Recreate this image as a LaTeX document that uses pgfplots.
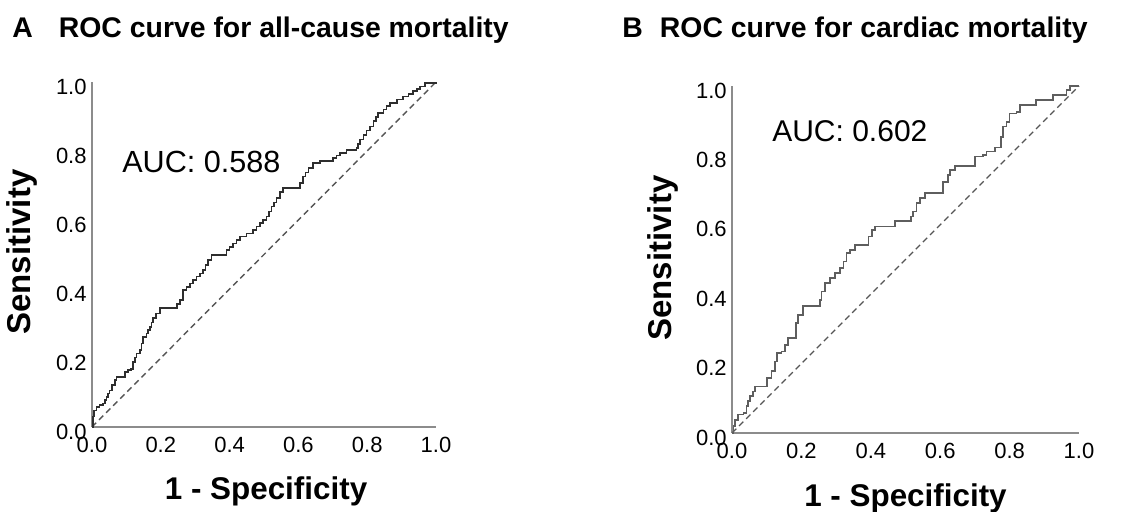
\documentclass[border=0pt]{standalone}
\usepackage{fontspec}
\setmainfont{Liberation Sans}
\usepackage{pgfplots}
\pgfplotsset{compat=1.18}

\definecolor{axisgrey}{HTML}{8C8C8C}
\definecolor{curveA}{HTML}{2E2E2E}
\definecolor{curveB}{HTML}{5E5E5E}
\definecolor{diaggrey}{HTML}{555555}

\pgfplotsset{
  rocaxis/.style={
    scale only axis, clip=false,
    xmin=0, xmax=1, ymin=0, ymax=1,
    axis x line=bottom, axis y line=left,
    axis line style={-, axisgrey, line width=0.8pt},
    major tick length=0pt,
    xtick={0,0.2,0.4,0.6,0.8,1}, ytick={0,0.2,0.4,0.6,0.8,1},
    xticklabels={0.0,0.2,0.4,0.6,0.8,1.0},
    yticklabels={0.0,0.2,0.4,0.6,0.8,1.0},
    tick label style={font=\fontsize{11}{12}\selectfont, inner sep=0pt},
    xticklabel style={anchor=base, yshift=-13pt},
    yticklabel style={anchor=east, xshift=-2.5pt, yshift=-2.3pt},
    xlabel style={font=\bfseries\fontsize{15.7}{18}\selectfont, inner sep=0pt},
    ylabel style={font=\bfseries\fontsize{16.5}{18}\selectfont, inner sep=0pt},
    every axis title shift=0pt,
    title style={font=\bfseries\fontsize{14.2}{17}\selectfont, inner sep=0pt, anchor=base west},
    xlabel={1 - Specificity}, ylabel={Sensitivity},
  },
}

\begin{document}
\begin{tikzpicture}
\path[use as bounding box] (0,0) rectangle (569pt,256pt);

% A: all-cause mortality
\begin{axis}[rocaxis,
  at={(46pt,42.5pt)}, anchor=south west,
  width=172pt, height=172.5pt,
  title={A\hspace{13pt}ROC curve for all-cause mortality},
  title style={at={(axis description cs:-0.2326,1.130)}},
  xlabel style={at={(axis description cs:0.506,-0.2116)}, anchor=base},
  ylabel style={at={(axis description cs:-0.2035,0.507)}, anchor=center},
]
\addplot[dash pattern=on 3pt off 2pt, diaggrey, line width=0.7pt] coordinates {(0,0) (1,1)};
\addplot[const plot, curveA, line width=0.85pt, mark=none] coordinates {
(0,0) (0.003,0.030) (0.006,0.048) (0.013,0.058) (0.022,0.063) (0.032,0.068)
(0.037,0.078) (0.042,0.087) (0.046,0.097) (0.051,0.106) (0.058,0.121) (0.066,0.136)
(0.071,0.145) (0.090,0.145) (0.095,0.160) (0.105,0.165) (0.114,0.169) (0.119,0.189)
(0.124,0.201) (0.129,0.213) (0.139,0.223) (0.144,0.242) (0.148,0.261) (0.158,0.271)
(0.163,0.281) (0.168,0.290) (0.173,0.303) (0.178,0.315) (0.187,0.329) (0.197,0.344)
(0.241,0.344) (0.248,0.356) (0.255,0.368) (0.265,0.397) (0.275,0.406) (0.284,0.416)
(0.294,0.426) (0.304,0.436) (0.313,0.445) (0.323,0.455) (0.330,0.470) (0.338,0.484)
(0.347,0.499) (0.381,0.499) (0.391,0.513) (0.400,0.522) (0.410,0.532) (0.420,0.542)
(0.430,0.552) (0.449,0.561) (0.468,0.571) (0.478,0.581) (0.488,0.591) (0.497,0.600)
(0.507,0.610) (0.515,0.625) (0.522,0.639) (0.529,0.651) (0.536,0.663) (0.546,0.682)
(0.556,0.692) (0.595,0.692) (0.604,0.707) (0.614,0.726) (0.621,0.738) (0.629,0.750)
(0.643,0.765) (0.662,0.770) (0.692,0.770) (0.701,0.779) (0.711,0.787) (0.721,0.794)
(0.740,0.803) (0.769,0.808) (0.774,0.820) (0.779,0.833) (0.789,0.847) (0.798,0.859)
(0.808,0.871) (0.818,0.886) (0.825,0.898) (0.832,0.910) (0.847,0.920) (0.856,0.930)
(0.866,0.939) (0.886,0.949) (0.905,0.958) (0.920,0.966) (0.934,0.973) (0.944,0.980)
(0.953,0.987) (0.968,0.997) (1,1)
};
\node[anchor=base west, inner sep=0pt, font=\fontsize{15.3}{17}\selectfont] at (axis cs:0.087,0.739) {AUC: 0.588};
\end{axis}

% B: cardiac mortality
\begin{axis}[rocaxis,
  at={(366pt,39.5pt)}, anchor=south west,
  width=173.5pt, height=173.5pt,
  title={B\hspace{8.5pt}ROC curve for cardiac mortality},
  title style={at={(axis description cs:-0.317,1.141)}},
  xlabel style={at={(axis description cs:0.500,-0.213)}, anchor=base},
  ylabel style={at={(axis description cs:-0.200,0.504)}, anchor=center},
]
\addplot[dash pattern=on 3pt off 2pt, diaggrey, line width=0.7pt] coordinates {(0,0) (1,1)};
\addplot[const plot, curveB, line width=0.85pt, mark=none] coordinates {
(0,0) (0.004,0.020) (0.009,0.038) (0.018,0.053) (0.033,0.058) (0.042,0.077)
(0.047,0.092) (0.052,0.106) (0.061,0.120) (0.066,0.134) (0.090,0.134) (0.100,0.158)
(0.114,0.178) (0.124,0.206) (0.129,0.230) (0.143,0.235) (0.153,0.254) (0.162,0.274)
(0.177,0.274) (0.184,0.317) (0.191,0.341) (0.205,0.365) (0.244,0.365) (0.253,0.384)
(0.258,0.408) (0.268,0.432) (0.282,0.446) (0.297,0.461) (0.311,0.475) (0.321,0.494)
(0.330,0.518) (0.340,0.528) (0.354,0.542) (0.388,0.542) (0.393,0.566) (0.403,0.585)
(0.412,0.595) (0.464,0.595) (0.469,0.610) (0.508,0.610) (0.515,0.624) (0.522,0.638)
(0.532,0.662) (0.541,0.677) (0.556,0.691) (0.599,0.691) (0.608,0.724) (0.623,0.744)
(0.628,0.758) (0.642,0.770) (0.690,0.770) (0.700,0.797) (0.724,0.801) (0.733,0.811)
(0.757,0.823) (0.767,0.823) (0.776,0.854) (0.781,0.883) (0.791,0.897) (0.800,0.921)
(0.820,0.926) (0.829,0.945) (0.872,0.945) (0.877,0.960) (0.916,0.960) (0.925,0.974)
(0.954,0.974) (0.964,0.988) (0.974,1.0) (1,1)
};
\node[anchor=base west, inner sep=0pt, font=\fontsize{15}{17}\selectfont] at (axis cs:0.115,0.839) {AUC: 0.602};
\end{axis}
\end{tikzpicture}
\end{document}
